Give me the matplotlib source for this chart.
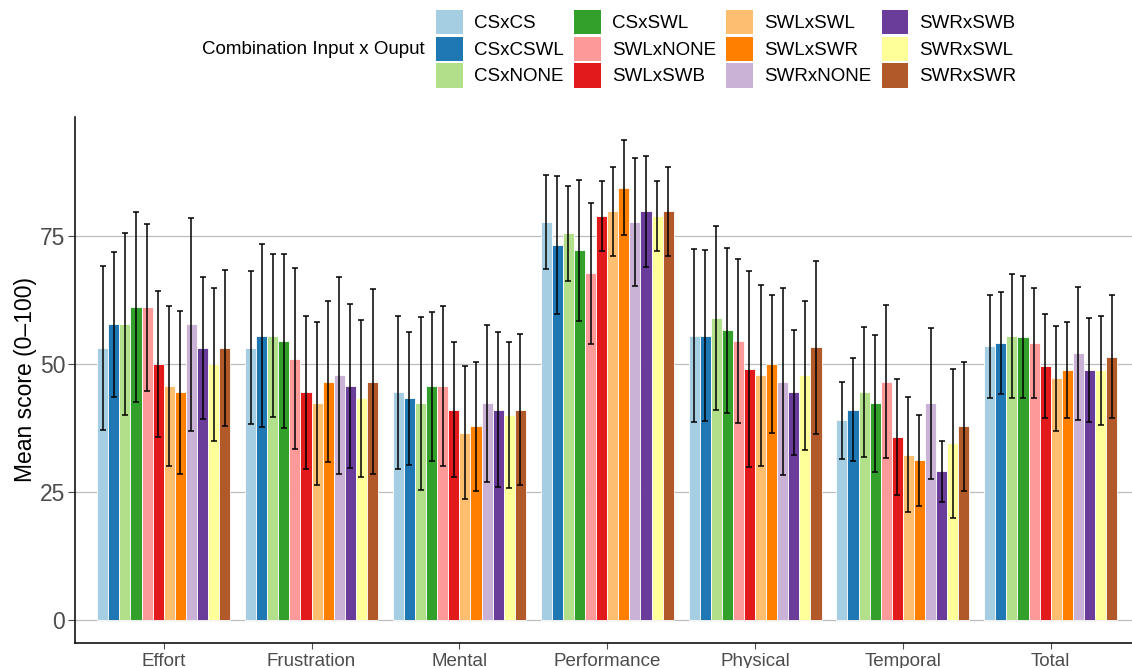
import matplotlib
matplotlib.use("Agg")
import matplotlib.pyplot as plt
from matplotlib.patches import Patch
import numpy as np

plt.rcParams['font.family'] = ['Liberation Sans', 'DejaVu Sans']

categories = ["Effort", "Frustration", "Mental", "Performance", "Physical", "Temporal", "Total"]
series = ["CSxCS", "CSxCSWL", "CSxNONE", "CSxSWL", "SWLxNONE", "SWLxSWB",
          "SWLxSWL", "SWLxSWR", "SWRxNONE", "SWRxSWB", "SWRxSWL", "SWRxSWR"]
colors = ["#A6CEE3", "#1F78B4", "#B2DF8A", "#33A02C", "#FB9A99", "#E31A1C",
          "#FDBF6F", "#FF7F00", "#CAB2D6", "#6A3D9A", "#FFFF99", "#B15928"]

# mean and error half-width per category (order of `series`)
effort_mean = [53.2, 57.8, 57.8, 61.1, 61.1, 50.0, 45.7, 44.5, 57.8, 53.2, 50.0, 53.2]
effort_err = [16.0, 14.2, 17.8, 18.6, 16.4, 14.3, 15.7, 16.0, 20.8, 13.9, 15.0, 15.3]
frustration_mean = [53.2, 55.6, 55.6, 54.5, 51.1, 44.5, 42.3, 46.6, 47.8, 45.7, 43.3, 46.6]
frustration_err = [15.0, 17.9, 16.0, 17.0, 17.7, 15.0, 16.0, 15.7, 19.3, 16.0, 15.3, 18.2]
mental_mean = [44.5, 43.3, 42.3, 45.7, 45.7, 41.1, 36.6, 37.8, 42.3, 41.1, 40.0, 41.1]
mental_err = [15.0, 13.0, 16.9, 14.6, 15.7, 13.2, 13.1, 12.6, 15.3, 15.2, 14.3, 14.8]
performance_mean = [77.8, 73.3, 75.6, 72.3, 67.8, 79.0, 79.9, 84.5, 77.8, 79.9, 79.0, 79.9]
performance_err = [9.2, 13.5, 9.3, 13.8, 13.8, 6.9, 8.7, 9.3, 12.5, 10.9, 6.9, 8.7]
physical_mean = [55.6, 55.6, 59.0, 56.6, 54.5, 49.0, 47.8, 50.0, 46.6, 44.5, 47.8, 53.3]
physical_err = [17.0, 16.7, 18.0, 16.1, 16.0, 19.2, 17.8, 13.5, 18.4, 12.2, 14.6, 17.0]
temporal_mean = [39.0, 41.1, 44.5, 42.3, 46.6, 35.7, 32.3, 31.2, 42.3, 29.0, 34.5, 37.8]
temporal_err = [7.6, 10.1, 12.7, 13.4, 15.0, 11.4, 11.2, 8.9, 14.8, 6.0, 14.6, 12.6]
total_mean = [53.5, 54.1, 55.5, 55.3, 54.1, 49.6, 47.2, 48.8, 52.1, 48.8, 48.8, 51.5]
total_err = [10.1, 10.0, 12.2, 12.0, 10.8, 10.2, 10.2, 9.4, 13.0, 10.2, 10.7, 12.1]

means = np.array([effort_mean, frustration_mean, mental_mean, performance_mean,
                  physical_mean, temporal_mean, total_mean])  # (cat, series)
errs = np.array([effort_err, frustration_err, mental_err, performance_err,
                 physical_err, temporal_err, total_err])

W, H = 1132, 668
fig = plt.figure(figsize=(W / 100, H / 100), dpi=100)
ax = fig.add_axes([75 / W, (H - 643) / H, (W - 75) / W, (643 - 117) / H])

n = len(series)
group_w = 0.9
bw = group_w / n
x = np.arange(len(categories))
for i, s in enumerate(series):
    xpos = x - group_w / 2 + bw * (i + 0.5)
    ax.bar(xpos, means[:, i], width=bw, color=colors[i], edgecolor='white',
           linewidth=0.6, zorder=2)
    ax.errorbar(xpos, means[:, i], yerr=errs[:, i], fmt='none', ecolor='black',
                elinewidth=1.1, capsize=2.4, capthick=1.1, zorder=3)

ax.set_xlim(-0.6, 6.55)
ax.set_ylim(-4.6, 98.4)
ax.set_yticks([0, 25, 50, 75])
ax.set_xticks(x)
ax.set_xticklabels(categories)
ax.yaxis.grid(True, color='#bdbdbd', linewidth=0.9, zorder=0)
ax.set_axisbelow(True)
for sp in ['top', 'right']:
    ax.spines[sp].set_visible(False)
for sp in ['left', 'bottom']:
    ax.spines[sp].set_linewidth(1.1)
    ax.spines[sp].set_color('black')
ax.tick_params(axis='y', labelsize=16.5, labelcolor='#4d4d4d', color='#4d4d4d',
               length=5, width=0.8, pad=2)
ax.tick_params(axis='x', labelsize=13.5, labelcolor='#4d4d4d', color='#4d4d4d',
               length=4, width=0.8, pad=3)
ax.set_ylabel("Mean score (0\u2013100)", fontsize=16.5, color='black', labelpad=2)

handles = [Patch(facecolor=c, edgecolor='none') for c in colors]
leg = fig.legend(handles, series, ncol=4, loc='upper left',
                 bbox_to_anchor=(436 / W, 1 - 10 / H), frameon=False,
                 fontsize=13.5, handlelength=1.42, handleheight=1.62,
                 handletextpad=0.6, columnspacing=0.55, labelspacing=0.12,
                 borderpad=0, borderaxespad=0)
fig.text(425 / W, 1 - 50 / H, "Combination Input x Ouput", fontsize=13.5,
         ha='right', va='center')

fig.savefig("out.png", dpi=100)
